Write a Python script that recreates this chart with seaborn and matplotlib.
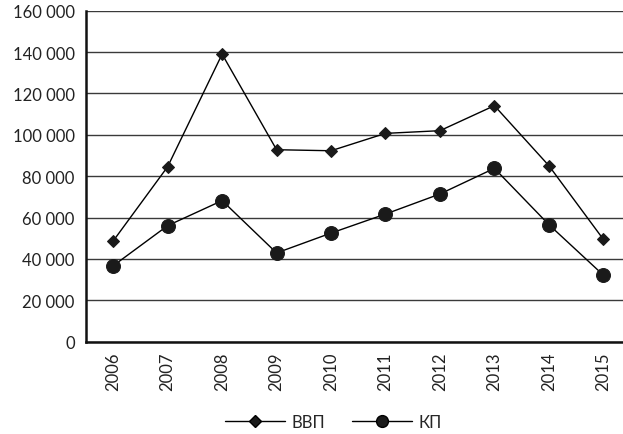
import numpy as np
import pandas as pd
import matplotlib
matplotlib.use("Agg")
import matplotlib.pyplot as plt
from matplotlib.ticker import FuncFormatter, FixedLocator
import seaborn as sns

years = ["2006", "2007", "2008", "2009", "2010", "2011", "2012", "2013", "2014", "2015"]
vvp = [48700, 84600, 139000, 92800, 92300, 100700, 102000, 114100, 85100, 49500]
kp = [36700, 56100, 68200, 42900, 52500, 61700, 71400, 83800, 56600, 32200]
series_names = ["ВВП", "КП"]

df = pd.DataFrame({
    "pos": list(range(len(years))) * 2,
    "value": vvp + kp,
    "series": [series_names[0]] * len(years) + [series_names[1]] * len(years),
})

sns.set_style("white")
plt.rcParams["font.family"] = ["Lato", "DejaVu Sans"]

fig = plt.figure(figsize=(6.23, 4.35), dpi=100)
ax = fig.add_axes([0.138, 0.2122, 1.0121 - 0.138, 0.9731 - 0.2122])

sns.lineplot(
    data=df, x="pos", y="value", hue="series", style="series",
    palette={"ВВП": "black", "КП": "black"},
    markers={"ВВП": "D", "КП": "o"}, dashes=False,
    markersize=7, linewidth=1.0, ax=ax, legend=False,
)
# circle markers are bigger than diamonds
for line, ms in zip(ax.lines, [6.5, 10]):
    line.set_markersize(ms)
    line.set_markeredgecolor("#1a1a1a")
    line.set_markerfacecolor("#1a1a1a")

ax.set_xlim(-0.5, len(years) - 0.5)
ax.set_ylim(0, 160000)
ax.set_yticks(np.arange(0, 160001, 20000))
ax.yaxis.set_major_formatter(FuncFormatter(lambda v, p: f"{int(v):,}".replace(",", " ")))
ax.set_xticks(range(len(years)))
ax.set_xticklabels(years, rotation=90)
ax.xaxis.set_minor_locator(FixedLocator(np.arange(-0.5, len(years), 1.0)))
ax.tick_params(axis="x", which="major", length=0, pad=7, labelsize=12, colors="#222222")
ax.tick_params(axis="x", which="minor", length=4, width=1.2, color="#333333", direction="out")
ax.tick_params(axis="y", which="major", length=4.5, width=1.0, color="#333333",
               direction="out", labelsize=12, labelcolor="#222222", pad=3.5)
ax.set_xlabel("")
ax.set_ylabel("")

ax.grid(axis="y", color="#3a3a3a", linewidth=1.0)
ax.set_axisbelow(True)
for s in ["top", "right"]:
    ax.spines[s].set_visible(False)
for s in ["left", "bottom"]:
    ax.spines[s].set_color("#111111")
    ax.spines[s].set_linewidth(1.8)

handles = [
    plt.Line2D([], [], color="black", lw=1.0, marker="D", markersize=6, markerfacecolor="#1a1a1a"),
    plt.Line2D([], [], color="black", lw=1.0, marker="o", markersize=8.5, markerfacecolor="#1a1a1a"),
]
fig.legend(handles, series_names, loc="center", bbox_to_anchor=(0.535, 0.027),
           ncol=2, frameon=False, fontsize=12, handlelength=3.6, columnspacing=1.6,
           handletextpad=0.4)

fig.savefig("out.png", dpi=100)
